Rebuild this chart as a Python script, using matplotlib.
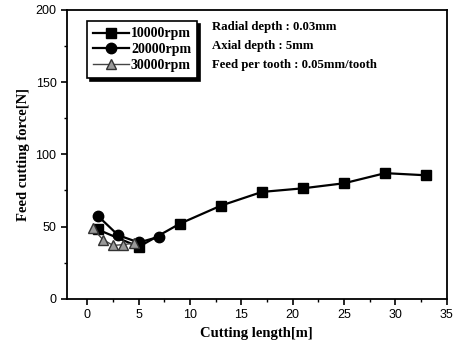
import numpy as np
import matplotlib.pyplot as plt
from matplotlib.ticker import MultipleLocator

# feed cutting force vs cutting length for three spindle speeds
len_10k = [1, 5, 9, 13, 17, 21, 25, 29, 33]
force_10k = [48, 36, 52, 64.5, 74, 76.5, 80, 87, 85.5]
len_20k = [1, 3, 5, 7]
force_20k = [57.5, 44, 39, 43]
len_30k = [0.5, 1.5, 2.5, 3.5, 4.5]
force_30k = [49, 41, 37, 37.5, 38.5]

plt.rcParams['font.family'] = ['Liberation Sans', 'DejaVu Sans']
serif = ['Liberation Serif', 'DejaVu Serif']

fig = plt.figure(figsize=(4.55, 3.52), dpi=100)
ax = fig.add_axes([0.147, 0.151, 0.835, 0.821])

ax.plot(len_10k, force_10k, color='black', lw=1.6, marker='s', ms=7, label='10000rpm')
ax.plot(len_20k, force_20k, color='black', lw=1.6, marker='o', ms=7.5, label='20000rpm')
ax.plot(len_30k, force_30k, color='#444444', lw=1.0, marker='^', ms=7,
        markerfacecolor='#999999', markeredgecolor='#333333', label='30000rpm')

ax.set_xlim(-2, 35)
ax.set_ylim(0, 200)
ax.xaxis.set_major_locator(MultipleLocator(5))
ax.xaxis.set_minor_locator(MultipleLocator(2.5))
ax.yaxis.set_major_locator(MultipleLocator(50))
ax.yaxis.set_minor_locator(MultipleLocator(25))
ax.tick_params(which='major', direction='out', length=4, width=1.2, labelsize=9)
ax.tick_params(which='minor', direction='out', length=2.5, width=1)
for s in ax.spines.values():
    s.set_linewidth(1.3)

ax.set_xlabel('Cutting length[m]', family=serif, fontweight='bold', fontsize=10.5)
ax.set_ylabel('Feed cutting force[N]', family=serif, fontweight='bold', fontsize=10.5)

leg = ax.legend(loc='upper left', bbox_to_anchor=(0.035, 0.985), frameon=True, fancybox=False,
                shadow={'color': 'black', 'alpha': 1}, edgecolor='black',
                prop={'family': serif, 'weight': 'bold', 'size': 10},
                handlelength=2.6, handletextpad=0.1, labelspacing=0.2, borderpad=0.45)
leg.get_frame().set_linewidth(1.2)

notes = ['Radial depth : 0.03mm', 'Axial depth : 5mm', 'Feed per tooth : 0.05mm/tooth']
for i, t in enumerate(notes):
    ax.text(0.382, 0.94 - i * 0.066, t, transform=ax.transAxes, family=serif,
            fontweight='bold', fontsize=9.2, va='center')

fig.savefig('out.png', dpi=100)
